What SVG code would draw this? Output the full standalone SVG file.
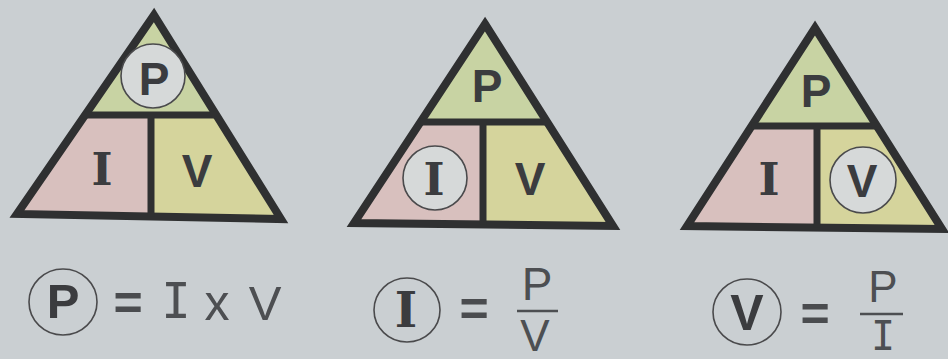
<svg xmlns="http://www.w3.org/2000/svg" width="948" height="359" viewBox="0 0 948 359">
<style>
.bg{fill:#cacfd2}
.top{fill:#c8d3a3}
.lft{fill:#d8c0be}
.rgt{fill:#d5d49c}
.ln{fill:none;stroke:#2f3031;stroke-width:8;stroke-linejoin:miter;stroke-linecap:square}
.dv{fill:none;stroke:#2f3031;stroke-width:7}
.ring{fill:#d6d9d9;stroke:#4a4a4c;stroke-width:1.6}
.ringf{fill:none;stroke:#4a4a4c;stroke-width:1.6}
.bs{font-family:"Liberation Sans",Arial,sans-serif;font-weight:bold;fill:#3b3c3f;text-anchor:middle}
.bsr{font-family:"DejaVu Serif","Liberation Serif",serif;font-weight:bold;fill:#3b3c3f;text-anchor:middle}
.th{font-family:"Liberation Sans",Arial,sans-serif;fill:#4d4f52;text-anchor:middle}
.mono{font-family:"DejaVu Sans Mono","Liberation Mono",monospace;fill:#4d4f52;text-anchor:middle}
.eq{font-family:"Liberation Sans",Arial,sans-serif;font-weight:bold;fill:#4a4c4f;text-anchor:middle}
.bar{stroke:#4d4f52;stroke-width:2.5}
</style>
<rect class="bg" x="0" y="0" width="948" height="359"/>

<g id="triangle-p">
<polygon class="top" points="154,15 216,115 85,115"/>
<polygon class="lft" points="85,115 151,115 151,216.5 17,214"/>
<polygon class="rgt" points="151,115 216,115 281,219 151,216.5"/>
<polygon class="ln" points="154,15 281,219 17,214"/>
<line class="dv" x1="85" y1="115" x2="216" y2="115"/>
<line class="dv" x1="151" y1="115" x2="151" y2="216.5"/>
<circle class="ring" cx="153" cy="76" r="32"/>
<text class="bs" x="154" y="95" font-size="46">P</text>
<text class="bsr" x="102" y="185" font-size="45">I</text>
<text class="bs" x="197" y="187" font-size="46">V</text>
</g>

<g id="triangle-i">
<polygon class="top" points="485,24 547,122 420.5,122"/>
<polygon class="lft" points="420.5,122 483,122 483,224.5 354,223"/>
<polygon class="rgt" points="483,122 547,122 613,226 483,224.5"/>
<polygon class="ln" points="485,24 613,226 354,223"/>
<line class="dv" x1="420.5" y1="122" x2="547" y2="122"/>
<line class="dv" x1="483" y1="122" x2="483" y2="224.5"/>
<text class="bs" x="487" y="102" font-size="46">P</text>
<circle class="ring" cx="435" cy="178" r="32"/>
<text class="bsr" x="434" y="195" font-size="45">I</text>
<text class="bs" x="530" y="195" font-size="46">V</text>
</g>

<g id="triangle-v">
<polygon class="top" points="815,28 877,126 751.6,126"/>
<polygon class="lft" points="751.6,126 817,126 817,227.5 687,226"/>
<polygon class="rgt" points="817,126 877,126 942,229 817,227.5"/>
<polygon class="ln" points="815,28 942,229 687,226"/>
<line class="dv" x1="751.6" y1="126" x2="877" y2="126"/>
<line class="dv" x1="817" y1="126" x2="817" y2="227.5"/>
<text class="bs" x="816" y="107" font-size="46">P</text>
<text class="bsr" x="769" y="195" font-size="45">I</text>
<circle class="ring" cx="863" cy="180" r="33"/>
<text class="bs" x="862" y="197" font-size="46">V</text>
</g>

<g id="formula-p">
<ellipse class="ringf" cx="63" cy="302" rx="34" ry="33"/>
<text class="bs" x="63" y="318" font-size="49">P</text>
<text class="eq" x="128" y="320" font-size="50">=</text>
<text class="mono" x="176" y="318" font-size="49">I</text>
<text class="th" x="217" y="320" font-size="50">x</text>
<text class="th" x="265" y="320" font-size="49">V</text>
</g>

<g id="formula-i">
<ellipse class="ringf" cx="407" cy="310" rx="33" ry="32"/>
<text class="bsr" x="406" y="327" font-size="48">I</text>
<text class="eq" x="474" y="326" font-size="50">=</text>
<text class="th" x="537" y="300" font-size="46">P</text>
<line class="bar" x1="517" y1="311" x2="558" y2="311"/>
<text class="th" x="535" y="351" font-size="44">V</text>
</g>

<g id="formula-v">
<ellipse class="ringf" cx="747" cy="312" rx="34" ry="33"/>
<text class="bs" x="747" y="330" font-size="50">V</text>
<text class="eq" x="815" y="331" font-size="50">=</text>
<text class="th" x="883" y="302" font-size="44">P</text>
<line class="bar" x1="860" y1="314" x2="903" y2="314"/>
<text class="mono" x="883" y="350" font-size="40">I</text>
</g>
</svg>
